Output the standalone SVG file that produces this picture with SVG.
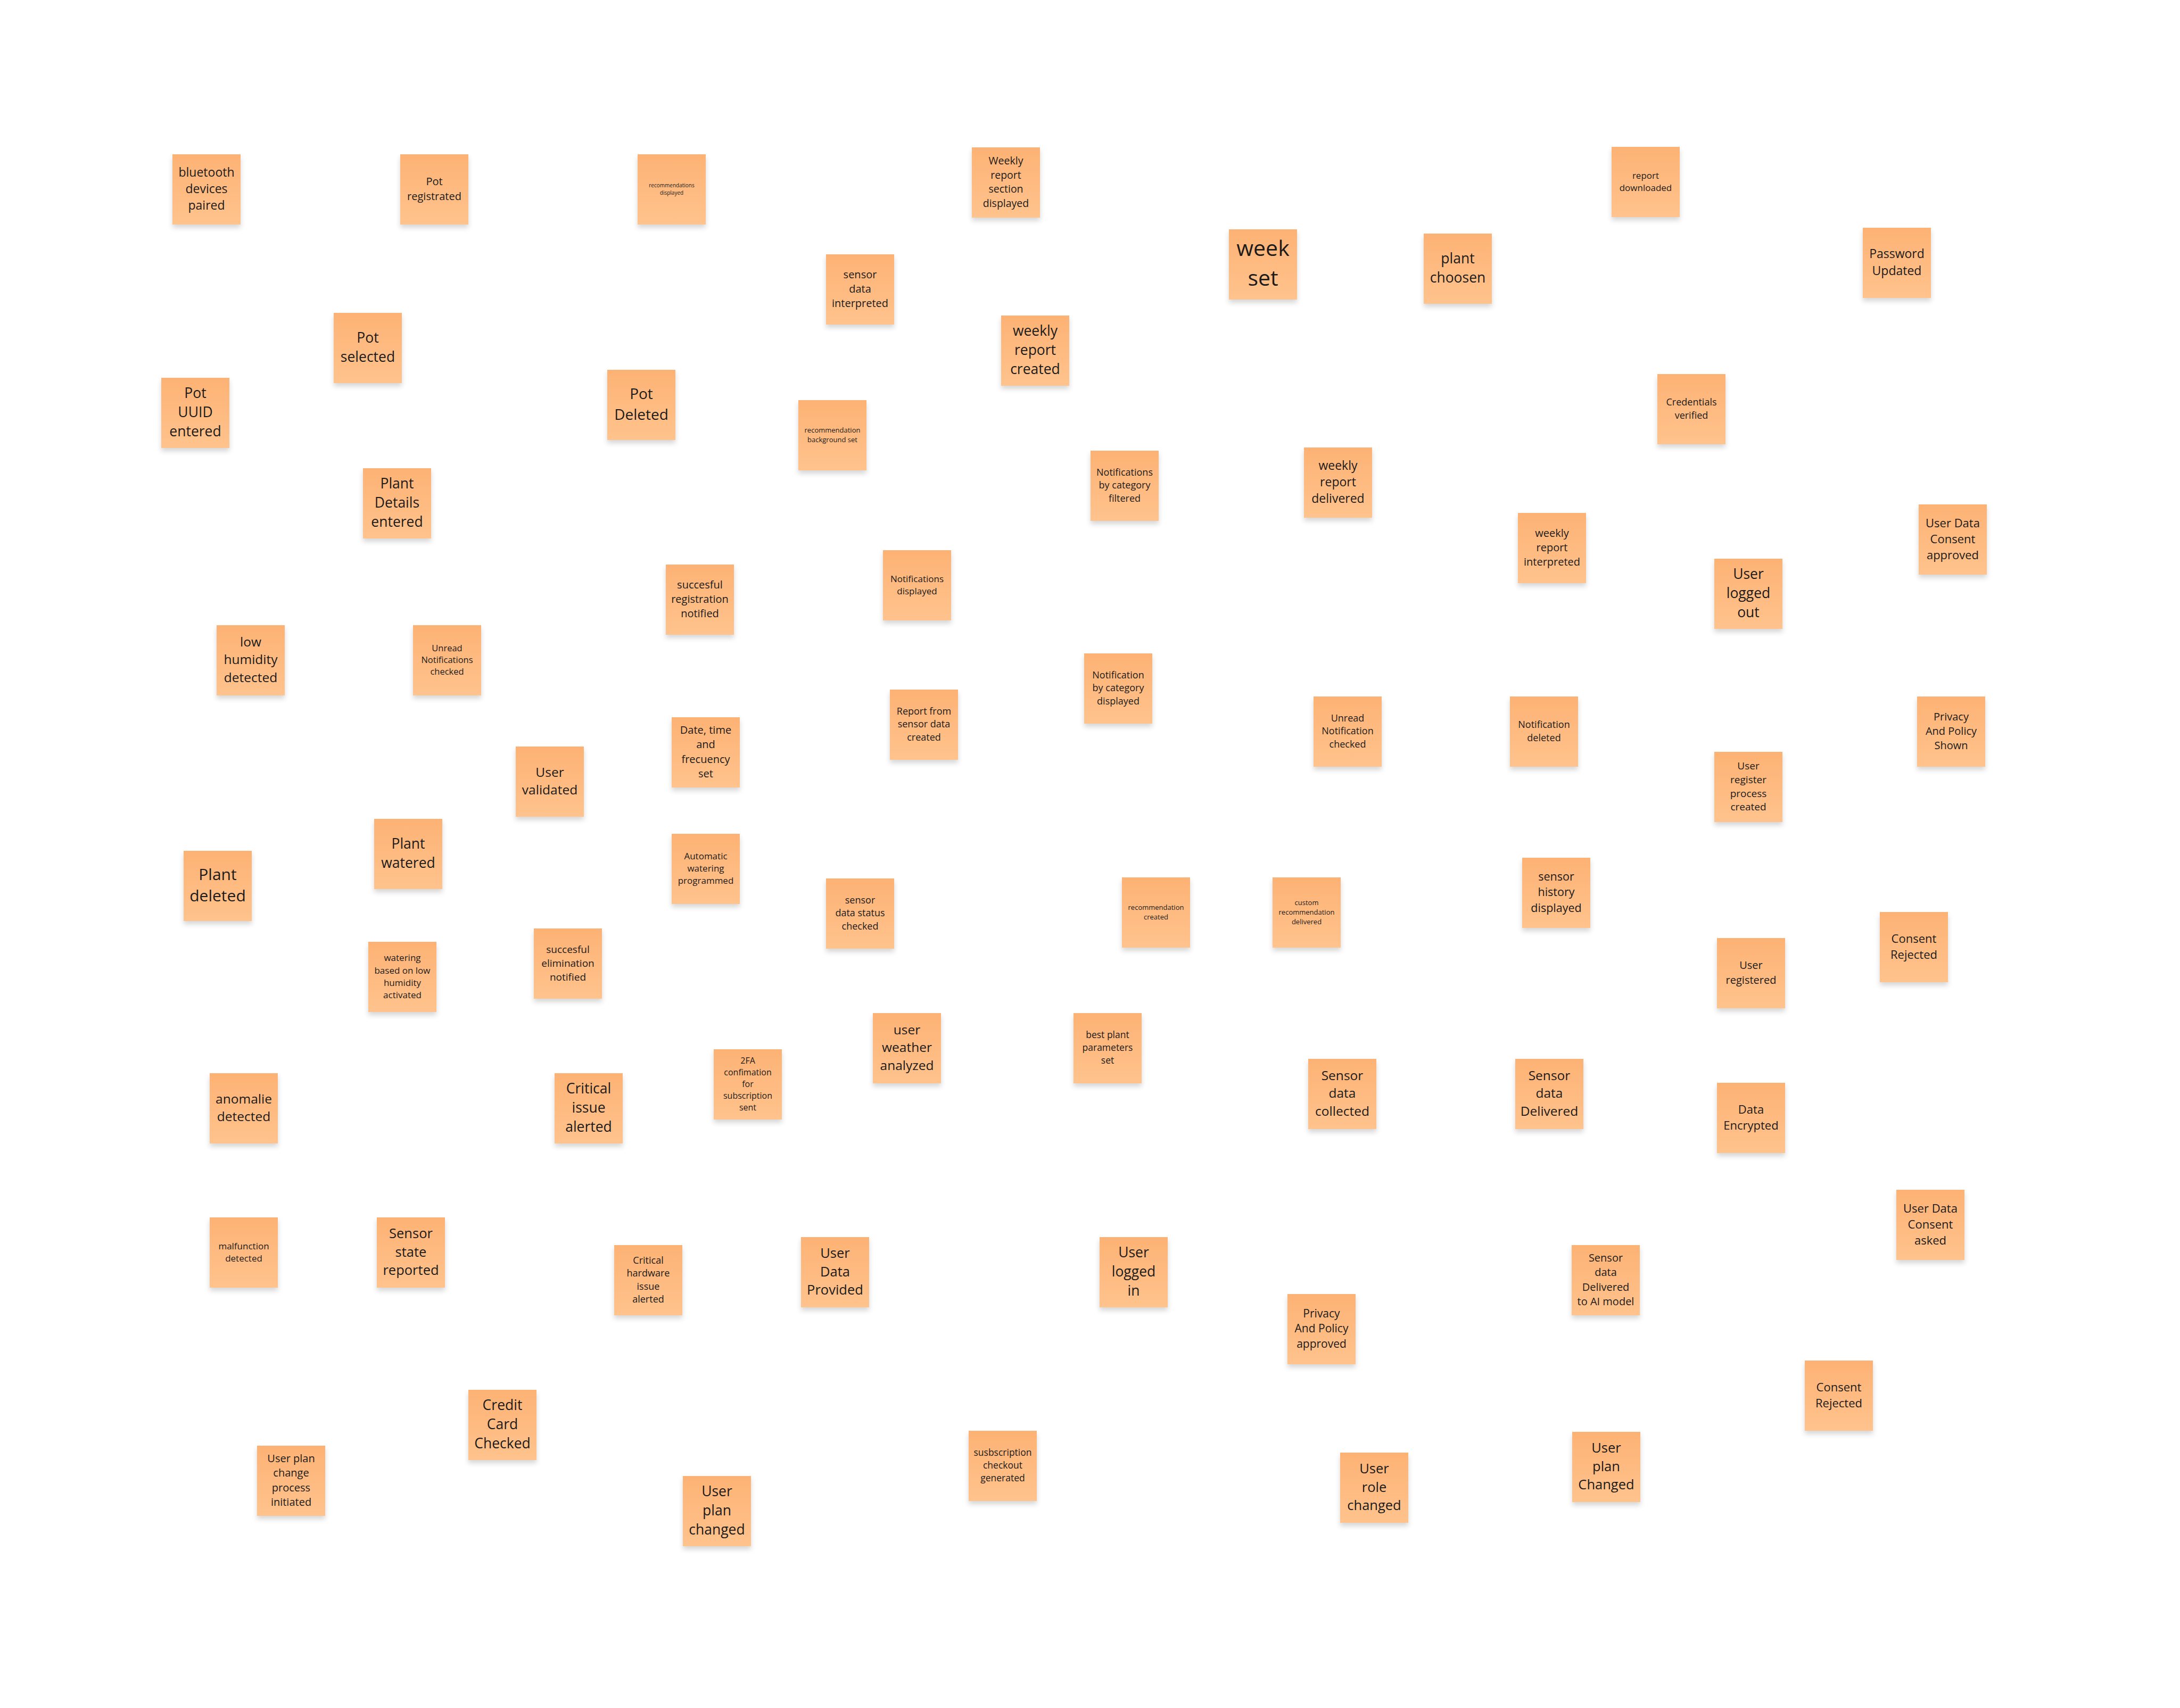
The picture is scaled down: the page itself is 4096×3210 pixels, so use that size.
<svg xmlns="http://www.w3.org/2000/svg" width="4096" height="3210" viewBox="0 0 4096 3210">
<style>
.note{fill:url(#ng);filter:url(#sh)}
text{font-family:"Open Sans","Noto Sans","Liberation Sans",sans-serif;fill:#1b1b1b;text-anchor:middle}
</style>
<defs>
<linearGradient id="ng" x1="0" y1="0" x2="0" y2="1">
<stop offset="0" stop-color="#FDB274"/>
<stop offset="1" stop-color="#FFC38D"/>
</linearGradient>
<filter id="sh" x="-20%" y="-20%" width="140%" height="150%">
<feDropShadow dx="0" dy="6" stdDeviation="5" flood-color="#000" flood-opacity="0.16"/>
</filter>
</defs>
<rect width="4096" height="3210" fill="#fff"/>
<g id="connectors"/>
<g id="n1" transform="translate(324,290)"><rect class="note" width="128" height="132"/><text y="41.6" font-size="23"><tspan x="64">bluetooth</tspan><tspan x="64" dy="31.3">devices</tspan><tspan x="64" dy="31.3">paired</tspan></text></g>
<g id="n2" transform="translate(752,290)"><rect class="note" width="128" height="132"/><text y="58.4" font-size="20"><tspan x="64">Pot</tspan><tspan x="64" dy="27.2">registrated</tspan></text></g>
<g id="n3" transform="translate(1198,290)"><rect class="note" width="128" height="132"/><text y="62.2" font-size="10"><tspan x="64">recommendations</tspan><tspan x="64" dy="13.6">displayed</tspan></text></g>
<g id="n4" transform="translate(1826,277)"><rect class="note" width="128" height="132"/><text y="32.1" font-size="19.5"><tspan x="64">Weekly</tspan><tspan x="64" dy="26.5">report</tspan><tspan x="64" dy="26.5">section</tspan><tspan x="64" dy="26.5">displayed</tspan></text></g>
<g id="n5" transform="translate(3028,276)"><rect class="note" width="128" height="132"/><text y="59.5" font-size="17"><tspan x="64">report</tspan><tspan x="64" dy="23.1">downloaded</tspan></text></g>
<g id="n6" transform="translate(1552,478)"><rect class="note" width="128" height="132"/><text y="44.8" font-size="20"><tspan x="64">sensor</tspan><tspan x="64" dy="27.2">data</tspan><tspan x="64" dy="27.2">interpreted</tspan></text></g>
<g id="n7" transform="translate(2309,431)"><rect class="note" width="128" height="132"/><text y="50.4" font-size="41"><tspan x="64">week</tspan><tspan x="64" dy="55.8">set</tspan></text></g>
<g id="n8" transform="translate(2675,439)"><rect class="note" width="128" height="132"/><text y="55.9" font-size="26.5"><tspan x="64">plant</tspan><tspan x="64" dy="36">choosen</tspan></text></g>
<g id="n9" transform="translate(3500,428)"><rect class="note" width="128" height="132"/><text y="57.3" font-size="23"><tspan x="64">Password</tspan><tspan x="64" dy="31.3">Updated</tspan></text></g>
<g id="n10" transform="translate(627,588)"><rect class="note" width="128" height="132"/><text y="55.9" font-size="26.5"><tspan x="64">Pot</tspan><tspan x="64" dy="36">selected</tspan></text></g>
<g id="n11" transform="translate(1881,593)"><rect class="note" width="128" height="132"/><text y="37.9" font-size="26.5"><tspan x="64">weekly</tspan><tspan x="64" dy="36">report</tspan><tspan x="64" dy="36">created</tspan></text></g>
<g id="n12" transform="translate(303,710)"><rect class="note" width="128" height="132"/><text y="37.9" font-size="26.5"><tspan x="64">Pot</tspan><tspan x="64" dy="36">UUID</tspan><tspan x="64" dy="36">entered</tspan></text></g>
<g id="n13" transform="translate(1141,695)"><rect class="note" width="128" height="132"/><text y="55.4" font-size="28"><tspan x="64">Pot</tspan><tspan x="64" dy="38.1">Deleted</tspan></text></g>
<g id="n14" transform="translate(1500,752)"><rect class="note" width="128" height="132"/><text y="61.1" font-size="13"><tspan x="64">recommendation</tspan><tspan x="64" dy="17.7">background set</tspan></text></g>
<g id="n15" transform="translate(3114,703)"><rect class="note" width="128" height="132"/><text y="59.2" font-size="18"><tspan x="64">Credentials</tspan><tspan x="64" dy="24.5">verified</tspan></text></g>
<g id="n16" transform="translate(682,880)"><rect class="note" width="128" height="132"/><text y="37.9" font-size="26.5"><tspan x="64">Plant</tspan><tspan x="64" dy="36">Details</tspan><tspan x="64" dy="36">entered</tspan></text></g>
<g id="n17" transform="translate(2049,847)"><rect class="note" width="128" height="132"/><text y="46.9" font-size="18"><tspan x="64">Notifications</tspan><tspan x="64" dy="24.5">by category</tspan><tspan x="64" dy="24.5">filtered</tspan></text></g>
<g id="n18" transform="translate(2450,841)"><rect class="note" width="128" height="132"/><text y="41.6" font-size="23"><tspan x="64">weekly</tspan><tspan x="64" dy="31.3">report</tspan><tspan x="64" dy="31.3">delivered</tspan></text></g>
<g id="n19" transform="translate(2852,964)"><rect class="note" width="128" height="132"/><text y="44.8" font-size="20"><tspan x="64">weekly</tspan><tspan x="64" dy="27.2">report</tspan><tspan x="64" dy="27.2">interpreted</tspan></text></g>
<g id="n20" transform="translate(3605,948)"><rect class="note" width="128" height="132"/><text y="42.7" font-size="22"><tspan x="64">User Data</tspan><tspan x="64" dy="29.9">Consent</tspan><tspan x="64" dy="29.9">approved</tspan></text></g>
<g id="n21" transform="translate(1251,1061)"><rect class="note" width="128" height="132"/><text y="44.8" font-size="20"><tspan x="64">succesful</tspan><tspan x="64" dy="27.2">registration</tspan><tspan x="64" dy="27.2">notified</tspan></text></g>
<g id="n22" transform="translate(1659,1034)"><rect class="note" width="128" height="132"/><text y="59.5" font-size="17"><tspan x="64">Notifications</tspan><tspan x="64" dy="23.1">displayed</tspan></text></g>
<g id="n23" transform="translate(3221,1050)"><rect class="note" width="128" height="132"/><text y="37.9" font-size="26.5"><tspan x="64">User</tspan><tspan x="64" dy="36">logged</tspan><tspan x="64" dy="36">out</tspan></text></g>
<g id="n24" transform="translate(407,1175)"><rect class="note" width="128" height="132"/><text y="40" font-size="24.5"><tspan x="64">low</tspan><tspan x="64" dy="33.3">humidity</tspan><tspan x="64" dy="33.3">detected</tspan></text></g>
<g id="n25" transform="translate(776,1175)"><rect class="note" width="128" height="132"/><text y="48.5" font-size="16.5"><tspan x="64">Unread</tspan><tspan x="64" dy="22.4">Notifications</tspan><tspan x="64" dy="22.4">checked</tspan></text></g>
<g id="n26" transform="translate(2037,1228)"><rect class="note" width="128" height="132"/><text y="46.9" font-size="18"><tspan x="64">Notification</tspan><tspan x="64" dy="24.5">by category</tspan><tspan x="64" dy="24.5">displayed</tspan></text></g>
<g id="n27" transform="translate(1672,1296)"><rect class="note" width="128" height="132"/><text y="46.9" font-size="18"><tspan x="64">Report from</tspan><tspan x="64" dy="24.5">sensor data</tspan><tspan x="64" dy="24.5">created</tspan></text></g>
<g id="n28" transform="translate(2468,1309)"><rect class="note" width="128" height="132"/><text y="46.9" font-size="18"><tspan x="64">Unread</tspan><tspan x="64" dy="24.5">Notification</tspan><tspan x="64" dy="24.5">checked</tspan></text></g>
<g id="n29" transform="translate(2837,1309)"><rect class="note" width="128" height="132"/><text y="59.2" font-size="18"><tspan x="64">Notification</tspan><tspan x="64" dy="24.5">deleted</tspan></text></g>
<g id="n30" transform="translate(3602,1309)"><rect class="note" width="128" height="132"/><text y="44.8" font-size="20"><tspan x="64">Privacy</tspan><tspan x="64" dy="27.2">And Policy</tspan><tspan x="64" dy="27.2">Shown</tspan></text></g>
<g id="n31" transform="translate(1262,1348)"><rect class="note" width="128" height="132"/><text y="31.2" font-size="20"><tspan x="64">Date, time</tspan><tspan x="64" dy="27.2">and</tspan><tspan x="64" dy="27.2">frecuency</tspan><tspan x="64" dy="27.2">set</tspan></text></g>
<g id="n32" transform="translate(969,1403)"><rect class="note" width="128" height="132"/><text y="56.7" font-size="24.5"><tspan x="64">User</tspan><tspan x="64" dy="33.3">validated</tspan></text></g>
<g id="n33" transform="translate(3221,1413)"><rect class="note" width="128" height="132"/><text y="32.9" font-size="19"><tspan x="64">User</tspan><tspan x="64" dy="25.8">register</tspan><tspan x="64" dy="25.8">process</tspan><tspan x="64" dy="25.8">created</tspan></text></g>
<g id="n34" transform="translate(703,1539)"><rect class="note" width="128" height="132"/><text y="55.9" font-size="26.5"><tspan x="64">Plant</tspan><tspan x="64" dy="36">watered</tspan></text></g>
<g id="n35" transform="translate(345,1599)"><rect class="note" width="128" height="132"/><text y="54.6" font-size="30"><tspan x="64">Plant</tspan><tspan x="64" dy="40.8">deleted</tspan></text></g>
<g id="n36" transform="translate(1262,1567)"><rect class="note" width="128" height="132"/><text y="48" font-size="17"><tspan x="64">Automatic</tspan><tspan x="64" dy="23.1">watering</tspan><tspan x="64" dy="23.1">programmed</tspan></text></g>
<g id="n37" transform="translate(1552,1651)"><rect class="note" width="128" height="132"/><text y="46.9" font-size="18"><tspan x="64">sensor</tspan><tspan x="64" dy="24.5">data status</tspan><tspan x="64" dy="24.5">checked</tspan></text></g>
<g id="n38" transform="translate(2108,1649)"><rect class="note" width="128" height="132"/><text y="61.1" font-size="13"><tspan x="64">recommendation</tspan><tspan x="64" dy="17.7">created</tspan></text></g>
<g id="n39" transform="translate(2391,1649)"><rect class="note" width="128" height="132"/><text y="52.2" font-size="13"><tspan x="64">custom</tspan><tspan x="64" dy="17.7">recommendation</tspan><tspan x="64" dy="17.7">delivered</tspan></text></g>
<g id="n40" transform="translate(2860,1612)"><rect class="note" width="128" height="132"/><text y="43.2" font-size="21.5"><tspan x="64">sensor</tspan><tspan x="64" dy="29.2">history</tspan><tspan x="64" dy="29.2">displayed</tspan></text></g>
<g id="n41" transform="translate(3532,1714)"><rect class="note" width="128" height="132"/><text y="57.6" font-size="22"><tspan x="64">Consent</tspan><tspan x="64" dy="29.9">Rejected</tspan></text></g>
<g id="n42" transform="translate(692,1770)"><rect class="note" width="128" height="132"/><text y="36.4" font-size="17"><tspan x="64">watering</tspan><tspan x="64" dy="23.1">based on low</tspan><tspan x="64" dy="23.1">humidity</tspan><tspan x="64" dy="23.1">activated</tspan></text></g>
<g id="n43" transform="translate(1003,1745)"><rect class="note" width="128" height="132"/><text y="45.9" font-size="19"><tspan x="64">succesful</tspan><tspan x="64" dy="25.8">elimination</tspan><tspan x="64" dy="25.8">notified</tspan></text></g>
<g id="n44" transform="translate(3226,1763)"><rect class="note" width="128" height="132"/><text y="58.4" font-size="20"><tspan x="64">User</tspan><tspan x="64" dy="27.2">registered</tspan></text></g>
<g id="n45" transform="translate(1640,1904)"><rect class="note" width="128" height="132"/><text y="40" font-size="24.5"><tspan x="64">user</tspan><tspan x="64" dy="33.3">weather</tspan><tspan x="64" dy="33.3">analyzed</tspan></text></g>
<g id="n46" transform="translate(2017,1904)"><rect class="note" width="128" height="132"/><text y="47.4" font-size="17.5"><tspan x="64">best plant</tspan><tspan x="64" dy="23.8">parameters</tspan><tspan x="64" dy="23.8">set</tspan></text></g>
<g id="n47" transform="translate(1341,1972)"><rect class="note" width="128" height="132"/><text y="27.3" font-size="16"><tspan x="64">2FA</tspan><tspan x="64" dy="21.8">confimation</tspan><tspan x="64" dy="21.8">for</tspan><tspan x="64" dy="21.8">subscription</tspan><tspan x="64" dy="21.8">sent</tspan></text></g>
<g id="n48" transform="translate(394,2017)"><rect class="note" width="128" height="132"/><text y="56.7" font-size="24.5"><tspan x="64">anomalie</tspan><tspan x="64" dy="33.3">detected</tspan></text></g>
<g id="n49" transform="translate(1042,2017)"><rect class="note" width="128" height="132"/><text y="37.9" font-size="26.5"><tspan x="64">Critical</tspan><tspan x="64" dy="36">issue</tspan><tspan x="64" dy="36">alerted</tspan></text></g>
<g id="n50" transform="translate(2458,1990)"><rect class="note" width="128" height="132"/><text y="40" font-size="24.5"><tspan x="64">Sensor</tspan><tspan x="64" dy="33.3">data</tspan><tspan x="64" dy="33.3">collected</tspan></text></g>
<g id="n51" transform="translate(2847,1990)"><rect class="note" width="128" height="132"/><text y="40" font-size="24.5"><tspan x="64">Sensor</tspan><tspan x="64" dy="33.3">data</tspan><tspan x="64" dy="33.3">Delivered</tspan></text></g>
<g id="n52" transform="translate(3226,2035)"><rect class="note" width="128" height="132"/><text y="57.6" font-size="22"><tspan x="64">Data</tspan><tspan x="64" dy="29.9">Encrypted</tspan></text></g>
<g id="n53" transform="translate(3563,2236)"><rect class="note" width="128" height="132"/><text y="42.7" font-size="22"><tspan x="64">User Data</tspan><tspan x="64" dy="29.9">Consent</tspan><tspan x="64" dy="29.9">asked</tspan></text></g>
<g id="n54" transform="translate(394,2288)"><rect class="note" width="128" height="132"/><text y="59.5" font-size="17"><tspan x="64">malfunction</tspan><tspan x="64" dy="23.1">detected</tspan></text></g>
<g id="n55" transform="translate(708,2288)"><rect class="note" width="128" height="132"/><text y="39" font-size="25.5"><tspan x="64">Sensor</tspan><tspan x="64" dy="34.7">state</tspan><tspan x="64" dy="34.7">reported</tspan></text></g>
<g id="n56" transform="translate(1154,2340)"><rect class="note" width="128" height="132"/><text y="34.7" font-size="18"><tspan x="64">Critical</tspan><tspan x="64" dy="24.5">hardware</tspan><tspan x="64" dy="24.5">issue</tspan><tspan x="64" dy="24.5">alerted</tspan></text></g>
<g id="n57" transform="translate(1505,2325)"><rect class="note" width="128" height="132"/><text y="39" font-size="25.5"><tspan x="64">User</tspan><tspan x="64" dy="34.7">Data</tspan><tspan x="64" dy="34.7">Provided</tspan></text></g>
<g id="n58" transform="translate(2066,2325)"><rect class="note" width="128" height="132"/><text y="37.9" font-size="26.5"><tspan x="64">User</tspan><tspan x="64" dy="36">logged</tspan><tspan x="64" dy="36">in</tspan></text></g>
<g id="n59" transform="translate(2953,2340)"><rect class="note" width="128" height="132"/><text y="31.2" font-size="20"><tspan x="64">Sensor</tspan><tspan x="64" dy="27.2">data</tspan><tspan x="64" dy="27.2">Delivered</tspan><tspan x="64" dy="27.2">to AI model</tspan></text></g>
<g id="n60" transform="translate(2419,2432)"><rect class="note" width="128" height="132"/><text y="43.7" font-size="21"><tspan x="64">Privacy</tspan><tspan x="64" dy="28.6">And Policy</tspan><tspan x="64" dy="28.6">approved</tspan></text></g>
<g id="n61" transform="translate(3391,2557)"><rect class="note" width="128" height="132"/><text y="57.6" font-size="22"><tspan x="64">Consent</tspan><tspan x="64" dy="29.9">Rejected</tspan></text></g>
<g id="n62" transform="translate(880,2612)"><rect class="note" width="128" height="132"/><text y="37.9" font-size="26.5"><tspan x="64">Credit</tspan><tspan x="64" dy="36">Card</tspan><tspan x="64" dy="36">Checked</tspan></text></g>
<g id="n63" transform="translate(1820,2689)"><rect class="note" width="128" height="132"/><text y="47.4" font-size="17.5"><tspan x="64">susbscription</tspan><tspan x="64" dy="23.8">checkout</tspan><tspan x="64" dy="23.8">generated</tspan></text></g>
<g id="n64" transform="translate(483,2717)"><rect class="note" width="128" height="132"/><text y="31.2" font-size="20"><tspan x="64">User plan</tspan><tspan x="64" dy="27.2">change</tspan><tspan x="64" dy="27.2">process</tspan><tspan x="64" dy="27.2">initiated</tspan></text></g>
<g id="n65" transform="translate(2518,2730)"><rect class="note" width="128" height="132"/><text y="39" font-size="25.5"><tspan x="64">User</tspan><tspan x="64" dy="34.7">role</tspan><tspan x="64" dy="34.7">changed</tspan></text></g>
<g id="n66" transform="translate(2954,2691)"><rect class="note" width="128" height="132"/><text y="39" font-size="25.5"><tspan x="64">User</tspan><tspan x="64" dy="34.7">plan</tspan><tspan x="64" dy="34.7">Changed</tspan></text></g>
<g id="n67" transform="translate(1283,2774)"><rect class="note" width="128" height="132"/><text y="37.9" font-size="26.5"><tspan x="64">User</tspan><tspan x="64" dy="36">plan</tspan><tspan x="64" dy="36">changed</tspan></text></g>
</svg>
